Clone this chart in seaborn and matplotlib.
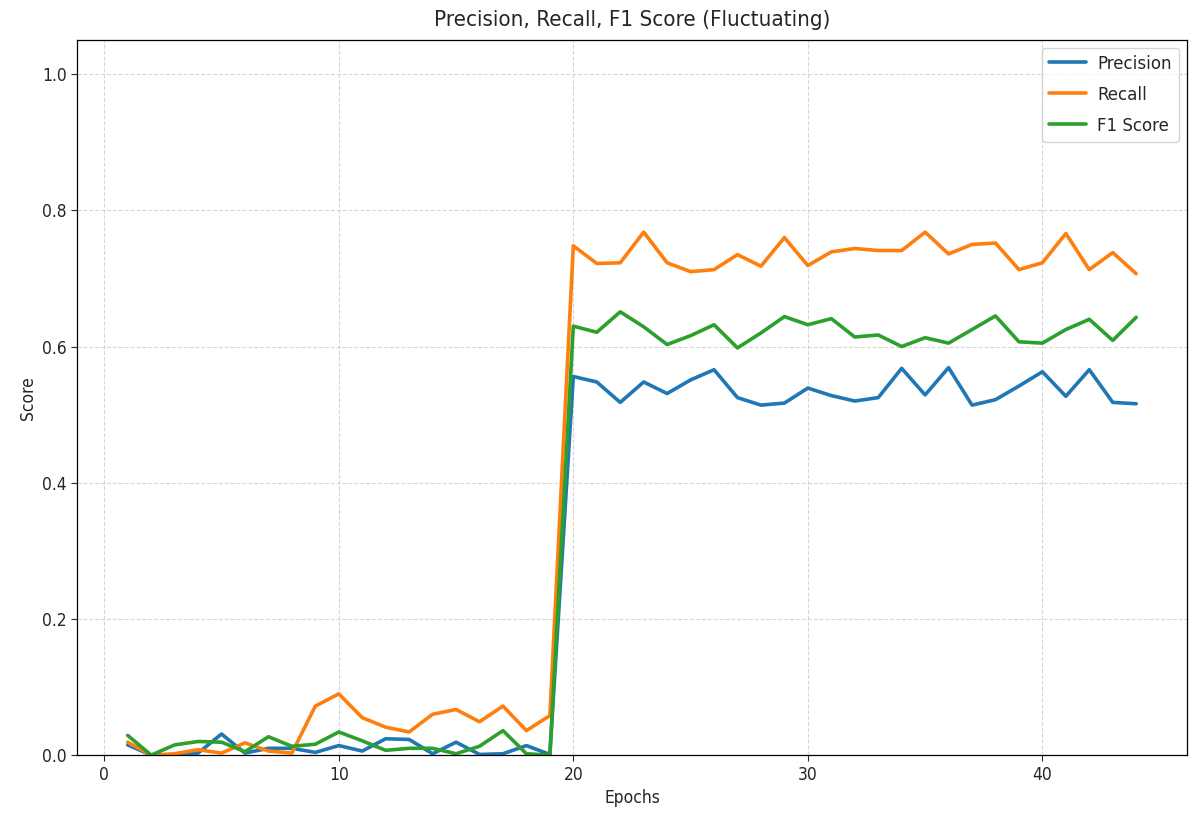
import numpy as np
import pandas as pd
import matplotlib
matplotlib.use("Agg")
import matplotlib.pyplot as plt
import seaborn as sns
from matplotlib import font_manager as fm

epochs = list(range(1, 45))
precision = [0.015, 0.0, 0.0, 0.003, 0.031, 0.003, 0.010, 0.010, 0.004, 0.014,
             0.006, 0.024, 0.023, 0.002, 0.019, 0.001, 0.002, 0.014, 0.001,
             0.556, 0.548, 0.518, 0.548, 0.531, 0.551, 0.566, 0.525, 0.514, 0.517,
             0.539, 0.528, 0.520, 0.525, 0.568, 0.529, 0.569, 0.514, 0.522, 0.542,
             0.563, 0.527, 0.566, 0.518, 0.516]
recall = [0.019, 0.0, 0.002, 0.008, 0.003, 0.018, 0.006, 0.003, 0.072, 0.090,
          0.055, 0.041, 0.034, 0.060, 0.067, 0.049, 0.072, 0.036, 0.058,
          0.748, 0.722, 0.723, 0.768, 0.723, 0.710, 0.713, 0.735, 0.718, 0.760,
          0.719, 0.739, 0.744, 0.741, 0.741, 0.768, 0.736, 0.750, 0.752, 0.713,
          0.723, 0.766, 0.713, 0.738, 0.707]
f1 = [0.029, 0.0, 0.015, 0.020, 0.019, 0.005, 0.027, 0.013, 0.016, 0.034,
      0.021, 0.007, 0.010, 0.010, 0.002, 0.013, 0.036, 0.002, 0.0,
      0.630, 0.621, 0.651, 0.629, 0.603, 0.616, 0.632, 0.598, 0.620, 0.644,
      0.632, 0.641, 0.614, 0.617, 0.600, 0.613, 0.605, 0.625, 0.645, 0.607,
      0.605, 0.625, 0.640, 0.609, 0.643]
series_names = ["Precision", "Recall", "F1 Score"]
colors = ["#1f77b4", "#ff7f0e", "#2ca02c"]

df = pd.DataFrame({
    "Epochs": epochs * 3,
    "Score": precision + recall + f1,
    "Metric": [series_names[0]] * 44 + [series_names[1]] * 44 + [series_names[2]] * 44,
})

sns.set_style("white")
plt.rcParams["font.family"] = ["DejaVu Sans"]

def cfont(size):
    return fm.FontProperties(family="DejaVu Sans", stretch="condensed", size=size)

fig, ax = plt.subplots(figsize=(11.89, 8.19), dpi=100)
fig.subplots_adjust(left=0.065, right=0.998, top=0.951, bottom=0.078)

sns.lineplot(data=df, x="Epochs", y="Score", hue="Metric", palette=colors,
             linewidth=2.6, ax=ax)

ax.set_ylim(0, 1.05)
ax.set_title("Precision, Recall, F1 Score (Fluctuating)", fontproperties=cfont(16), pad=10)
ax.set_xlabel("Epochs", fontproperties=cfont(12.5))
ax.set_ylabel("Score", fontproperties=cfont(12.5))
ax.tick_params(length=4, width=0.8, direction="out", bottom=True, left=True)
for lab in ax.get_xticklabels() + ax.get_yticklabels():
    lab.set_fontproperties(cfont(12.5))
ax.grid(True, linestyle="--", color="#cccccc", alpha=0.8, linewidth=0.8)
for s in ax.spines.values():
    s.set_color("black")
    s.set_linewidth(0.9)
leg = ax.legend(loc="upper right", prop=cfont(13.3), frameon=True, labelspacing=0.7,
                handletextpad=0.6, borderaxespad=0.4)
leg.set_title(None)

fig.savefig("out.png", dpi=100)
